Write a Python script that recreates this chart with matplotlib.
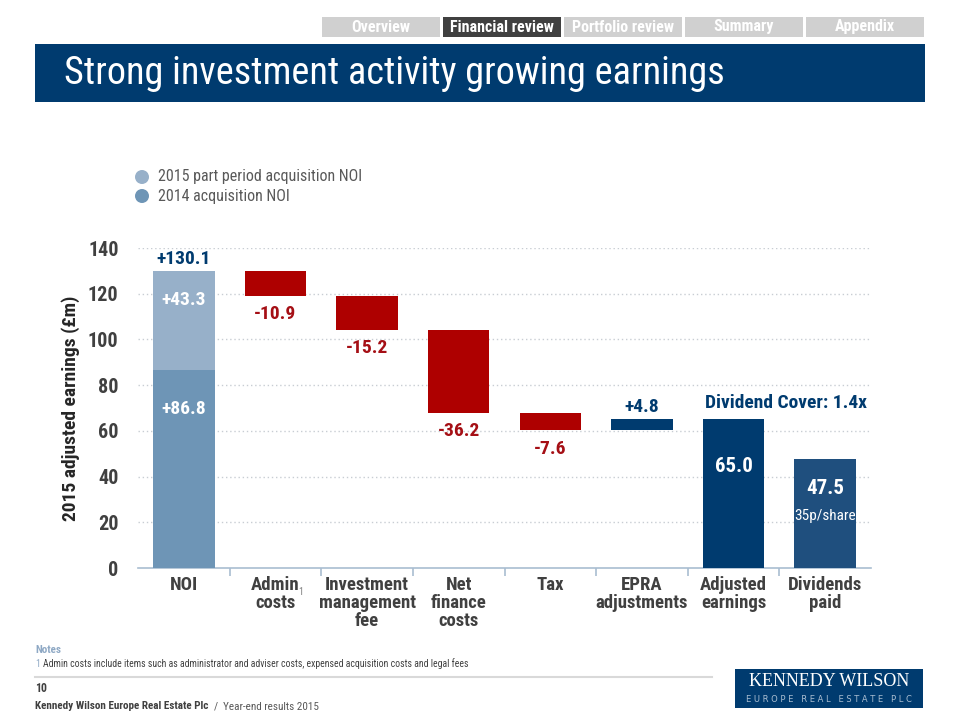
import matplotlib
matplotlib.use("Agg")
import matplotlib.pyplot as plt
from matplotlib.patches import Rectangle, Ellipse

plt.rcParams['font.family'] = ['Roboto Condensed', 'DejaVu Sans']

# data
categories = ["NOI", "Admin\ncosts", "Investment\nmanagement\nfee", "Net\nfinance\ncosts",
              "Tax", "EPRA\nadjustments", "Adjusted\nearnings", "Dividends\npaid"]
noi_2014 = 86.8
noi_2015 = 43.3
steps = [-10.9, -15.2, -36.2, -7.6, 4.8]
adjusted = 65.0
dividends = 47.5
step_labels = ["-10.9", "-15.2", "-36.2", "-7.6", "+4.8"]
nav_items = ["Overview", "Financial review", "Portfolio review", "Summary", "Appendix"]
yticks = [0, 20, 40, 60, 80, 100, 120, 140]

NAVY = "#003B6F"
RED = "#AE0000"
RED_TXT = "#A50F15"
LIGHT = "#97B0C9"
MID = "#6E95B6"
DIV = "#1F4F7E"
GRAY_TXT = "#404040"

fig = plt.figure(figsize=(9.6, 7.2), dpi=100)
W, H = 960, 720


def fx(px):
    return px / W


def fy(py):
    return 1 - py / H


# navigation tabs
for i, name in enumerate(nav_items):
    x0 = 322 + i * 121
    active = name == "Financial review"
    fig.patches.append(Rectangle((fx(x0), fy(37)), fx(118), 20 / H, transform=fig.transFigure,
                                 facecolor="#404040" if active else "#D0D0D0",
                                 edgecolor="none"))
    fig.text(fx(x0 + 59), fy(27), name, ha="center", va="center", color="white",
             fontsize=11.5, fontweight="bold")

# title bar
fig.patches.append(Rectangle((fx(35), fy(102)), fx(890), 58 / H, transform=fig.transFigure,
                             facecolor=NAVY, edgecolor="none"))
fig.text(fx(64), fy(74), "Strong investment activity growing earnings", ha="left", va="center",
         color="white", fontsize=27.5)

# legend
for py, col, lab in [(177, LIGHT, "2015 part period acquisition NOI"), (196, MID, "2014 acquisition NOI")]:
    fig.patches.append(Ellipse((fx(142), fy(py)), 14 / W, 14 / H, transform=fig.transFigure,
                               facecolor=col, edgecolor="none"))
    fig.text(fx(158), fy(py), lab, ha="left", va="center", color="#595959", fontsize=11.5)

ax = fig.add_axes([fx(138), fy(568), fx(733), 320 / H])

bw = 0.67

# NOI stacked
ax.bar(0, noi_2014, width=bw, color=MID, zorder=3)
ax.bar(0, noi_2015, bottom=noi_2014, width=bw, color=LIGHT, zorder=3)
total = noi_2014 + noi_2015
ax.text(0, noi_2014 / 2 + 26, "+86.8", ha="center", va="center", color="white",
        fontsize=14, fontweight="bold", zorder=4)
ax.text(0, noi_2014 + noi_2015 / 2 + 9, "+43.3", ha="center", va="center", color="white",
        fontsize=14, fontweight="bold", zorder=4)
ax.text(0, total + 1.2, "+130.1", ha="center", va="bottom", color=NAVY,
        fontsize=14, fontweight="bold", clip_on=False)

# waterfall steps
level = total
for i, (s, lab) in enumerate(zip(steps, step_labels)):
    new = level + s
    col = RED if s < 0 else NAVY
    ax.bar(i + 1, s, bottom=level, width=bw, color=col, zorder=3)
    if s < 0:
        ax.text(i + 1, new - 4, lab, ha="center", va="top", color=RED_TXT,
                fontsize=14, fontweight="bold")
    else:
        ax.text(i + 1, new + 1.5, lab, ha="center", va="bottom", color=NAVY,
                fontsize=14, fontweight="bold")
    level = new

# totals
ax.bar(6, adjusted, width=bw, color=NAVY, zorder=3)
ax.bar(7, dividends, width=bw, color=DIV, zorder=3)
ax.text(6, 44.6, "65.0", ha="center", va="center", color="white", fontsize=15, fontweight="bold")
ax.text(7, 34.6, "47.5", ha="center", va="center", color="white", fontsize=15, fontweight="bold")
ax.text(7, 22.7, "35p/share", ha="center", va="center", color="white", fontsize=11)
ax.text(6.57, 72.3, "Dividend Cover: 1.4x", ha="center", va="center", color=NAVY,
        fontsize=14, fontweight="bold")

ax.set_xlim(-0.5, len(categories) - 0.5)
ax.set_ylim(0, 140)
ax.set_yticks(yticks)
ax.set_yticklabels([str(t) for t in yticks], fontsize=14.5, fontweight="bold", color=GRAY_TXT)
for t in yticks[1:]:
    ax.axhline(t, color="#C8CDD3", linestyle=(0, (1, 2)), linewidth=1, zorder=1)
ax.set_ylabel("2015 adjusted earnings (£m)", fontsize=14, fontweight="bold", color="#262626",
              labelpad=6)

for sp in ["top", "right", "left"]:
    ax.spines[sp].set_visible(False)
ax.spines["bottom"].set_color("#A9BDD1")
ax.spines["bottom"].set_linewidth(1.2)
ax.tick_params(axis="y", length=0, pad=14)
ax.set_xticks([i + 0.5 for i in range(len(categories) - 1)])
ax.set_xticklabels([])
ax.tick_params(axis="x", direction="out", length=6, color="#A9BDD1", width=1.2)

for i, c in enumerate(categories):
    ax.text(i, -3.5, c, ha="center", va="top", fontsize=13.5, fontweight="bold",
            color=GRAY_TXT, linespacing=1.0, clip_on=False)
ax.text(1.25, -10.5, "1", ha="left", va="center", fontsize=7, color="#7F7F7F")

# notes and footer
fig.text(fx(35), fy(650), "Notes", ha="left", va="center", color="#8FA9C5", fontsize=8, fontweight="bold")
fig.text(fx(35), fy(664), "1", ha="left", va="center", color="#8FA9C5", fontsize=7)
fig.text(fx(43), fy(664),
         "Admin costs include items such as administrator and adviser costs, expensed acquisition costs and legal fees",
         ha="left", va="center", color="#404040", fontsize=7)
fig.add_artist(plt.Line2D([fx(35), fx(712)], [fy(677), fy(677)], color="#D9D9D9", linewidth=1.5,
                          transform=fig.transFigure))
fig.text(fx(35), fy(689), "10", ha="left", va="center", color="#404040", fontsize=8.5, fontweight="bold")
fig.text(fx(35), fy(706), "Kennedy Wilson Europe Real Estate Plc", ha="left", va="center",
         color="#404040", fontsize=8, fontweight="bold")
fig.text(fx(214), fy(706), "/  Year-end results 2015", ha="left", va="center",
         color="#595959", fontsize=8)

# logo
fig.patches.append(Rectangle((fx(735), fy(708)), fx(188), 39 / H, transform=fig.transFigure,
                             facecolor=NAVY, edgecolor="none"))
fig.text(fx(829), fy(682), "KENNEDY WILSON", ha="center", va="center", color="white",
         fontsize=13, family="Liberation Serif")
fig.text(fx(829), fy(699), "E U R O P E   R E A L   E S T A T E   P L C", ha="center", va="center",
         color="#A9BDD1", fontsize=6, family="DejaVu Sans")

fig.savefig("out.png", dpi=100)
